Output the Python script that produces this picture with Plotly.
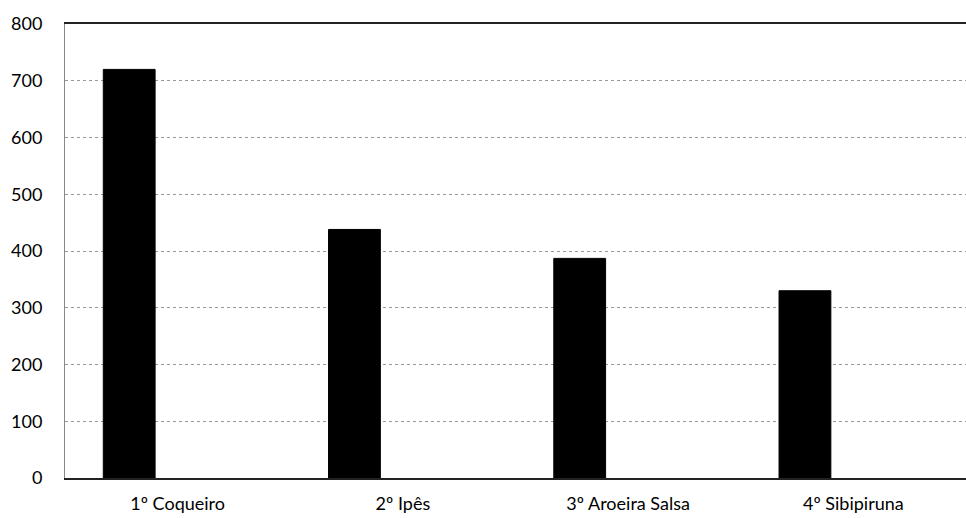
"""Bar chart: ranking of tree species."""

from __future__ import annotations

import plotly.graph_objects as go

categories = ["1º Coqueiro", "2º Ipês", "3º Aroeira Salsa", "4º Sibipiruna"]
values = [720, 438, 387, 330]
y_ticks = [0, 100, 200, 300, 400, 500, 600, 700, 800]

fig = go.Figure(
    go.Bar(
        x=categories,
        y=values,
        marker={"color": "#000000", "line": {"color": "#000000", "width": 1}},
        offset=-0.33,
        width=0.23,
        showlegend=False,
    )
)

fig.update_layout(
    width=966,
    height=518,
    margin={"l": 65, "r": 0, "t": 24, "b": 40, "autoexpand": False},
    paper_bgcolor="white",
    plot_bgcolor="white",
    font={"family": "Lato, 'Open Sans', sans-serif", "size": 18, "color": "#000000"},
    xaxis={
        "type": "category",
        "showline": True,
        "mirror": True,
        "linecolor": "#222222",
        "linewidth": 1.5,
        "showgrid": False,
        "ticks": "",
        "ticklabelstandoff": 9,
        "automargin": False,
    },
    yaxis={
        "range": [0, 800],
        "tickvals": y_ticks,
        "showline": True,
        "linecolor": "#888888",
        "linewidth": 1,
        "showgrid": True,
        "gridcolor": "#999999",
        "griddash": "dot",
        "gridwidth": 1,
        "zeroline": False,
        "ticks": "",
        "ticklabelstandoff": 18,
        "automargin": False,
    },
)

# the page's default 8px body margin would push the fixed-size figure off the window
fig.write_html(
    "out.html",
    config={"displayModeBar": False},
    post_script="document.body.style.margin = '0';",
)
